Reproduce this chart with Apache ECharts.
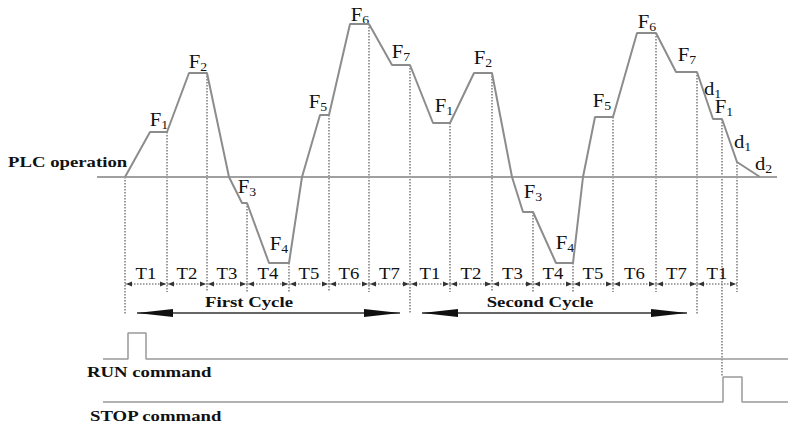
<!DOCTYPE html>
<html><head><meta charset="utf-8">
<script src="https://cdn.jsdelivr.net/npm/echarts@6/dist/echarts.min.js"></script>
<style>html,body{margin:0;padding:0;background:#fff}#c{width:788px;height:425px}</style>
</head><body><div id="c"></div>
<script>
// ---- Data (time units, frequency units) ----
const pathTimes = [0,25,42,64,82,104,117,122,144,164,177,195,204,225,244,267,285,308,325,349,367,387,398,408,431,448,458,470,488,512,531,551,572,588,597,612,635];
const pathFreqs = [0,45,45,104,104,0,-26,-26,-86,-86,0,62,62,153,153,112,112,54,54,104,104,0,-35,-35,-86,-86,0,60,60,144,144,105,105,58,58,15,0];

const segmentBounds = [0,42,82,122,164,204,244,285,325,367,408,448,488,531,572,612];
const segmentLabels = ['T1','T2','T3','T4','T5','T6','T7','T1','T2','T3','T4','T5','T6','T7','T1'];
const cycleStarts = [0,285,572];
const stopTime = 597;

const cycleNames = ['First Cycle','Second Cycle'];
const cycleFrom = [12,297];
const cycleTo = [275,562];
const cycleLabelT = [124,415];

const freqLabelNames = ['F1','F2','F3','F4','F5','F6','F7','F1','F2','F3','F4','F5','F6','F7','d1','F1','d1','d2'];
const freqLabelT = [34,73,122,154,193,235,276,319,358,408,440,477,522,562,587,599,617,638];
const freqLabelF = [57,115,-10,-67,75,162,125,71,119,-15,-66,76,155,122,88,70,35,13];

const plcSpan = [-28,652];
const runTimes = [-22,3,3,21,21,663];
const runLevels = [0,0,1,1,0,0];
const stopTimes = [-22,598,598,617,617,663];
const stopLevels = [0,0,1,1,0,0];

// ---- Layout ----
const SERIF = "'Liberation Serif', 'Times New Roman', serif";
const ROW_T_LABEL = -96, ROW_DIM = -107, ROW_CYCLE_LABEL = -125, ROW_CYCLE = -136;
const GUIDE_BOTTOM = -115, GUIDE_CYCLE_BOTTOM = -137;
const RUN_BASE = -182, RUN_AMP = 26, STOP_BASE = -225, STOP_AMP = 25;

const pathData = pathTimes.map((t,i)=>[t,pathFreqs[i]]);
function freqAt(t){ const i = pathTimes.indexOf(t); return i>=0 ? pathFreqs[i] : 0; }

const guideTimes = segmentBounds.concat([stopTime]).sort((a,b)=>a-b);
const guideData = guideTimes.map(t=>{
  let bottom = GUIDE_BOTTOM;
  if (cycleStarts.indexOf(t)>=0) bottom = GUIDE_CYCLE_BOTTOM;
  if (t===stopTime) bottom = STOP_BASE + STOP_AMP;
  return [t, freqAt(t), bottom];
});
const segData = segmentLabels.map((l,i)=>[segmentBounds[i], segmentBounds[i+1]]);
const cycleData = cycleNames.map((n,i)=>[cycleFrom[i], cycleTo[i], cycleLabelT[i]]);
const freqLabelData = freqLabelNames.map((n,i)=>[freqLabelT[i], freqLabelF[i]]);
const runData = runTimes.map((t,i)=>[t, RUN_BASE + runLevels[i]*RUN_AMP]);
const stopData = stopTimes.map((t,i)=>[t, STOP_BASE + stopLevels[i]*STOP_AMP]);

const chart = echarts.init(document.getElementById('c'), null, {renderer:'svg', width:788, height:425});

function tri(tip, dir, len, half, fill){
  return {type:'polygon', shape:{points:[[tip[0],tip[1]],[tip[0]-dir*len,tip[1]-half],[tip[0]-dir*len,tip[1]+half]]}, style:{fill:fill}};
}

const option = {
  animation:false,
  backgroundColor:'#fff',
  grid:{left:0,top:0,width:788,height:425},
  xAxis:{type:'value',min:-125,max:663,show:false},
  yAxis:{type:'value',min:-248,max:177,show:false},
  series:[
    {type:'line', name:'PLC baseline', data:plcSpan.map(t=>[t,0]), showSymbol:false, lineStyle:{color:'#a0a0a0',width:2}, silent:true},
    {type:'custom', name:'guides', data:guideData, renderItem:function(params, api){
      const p1 = api.coord([api.value(0), api.value(1)]);
      const p2 = api.coord([api.value(0), api.value(2)]);
      return {type:'line', shape:{x1:p1[0],y1:p1[1],x2:p2[0],y2:p2[1]}, style:{stroke:'#7a7a7a',lineWidth:1.5,lineDash:[1.5,1.5]}};
    }},
    {type:'line', name:'PLC operation', data:pathData, showSymbol:false, lineStyle:{color:'#8c8c8c',width:2}, silent:true},
    {type:'custom', name:'segments', data:segData, renderItem:function(params, api){
      const a = api.coord([api.value(0), ROW_DIM]);
      const b = api.coord([api.value(1), ROW_DIM]);
      const lab = api.coord([(api.value(0)+api.value(1))/2, ROW_T_LABEL]);
      return {type:'group', children:[
        {type:'line', shape:{x1:a[0],y1:a[1],x2:b[0],y2:b[1]}, style:{stroke:'#8a8a8a',lineWidth:1.5,lineDash:[1.5,1.5]}},
        tri([a[0]+1,a[1]], -1, 6, 2.5, '#333'),
        tri([b[0]-1,b[1]], 1, 6, 2.5, '#333'),
        {type:'text', x:lab[0], y:lab[1], scaleX:1.1, style:{text:segmentLabels[params.dataIndex], fontFamily:SERIF, fontSize:17, fill:'#111', align:'center', verticalAlign:'middle'}}
      ]};
    }},
    {type:'custom', name:'cycles', data:cycleData, renderItem:function(params, api){
      const a = api.coord([api.value(0), ROW_CYCLE]);
      const b = api.coord([api.value(1), ROW_CYCLE]);
      const lab = api.coord([api.value(2), ROW_CYCLE_LABEL]);
      return {type:'group', children:[
        {type:'line', shape:{x1:a[0],y1:a[1],x2:b[0],y2:b[1]}, style:{stroke:'#333',lineWidth:1.5}},
        tri(a, -1, 36, 4, '#111'),
        tri(b, 1, 36, 4, '#111'),
        {type:'text', x:lab[0], y:lab[1], scaleX:1.25, style:{text:cycleNames[params.dataIndex], fontFamily:SERIF, fontWeight:'bold', fontSize:15, fill:'#111', align:'center', verticalAlign:'middle'}}
      ]};
    }},
    {type:'custom', name:'freq labels', data:freqLabelData, renderItem:function(params, api){
      const p = api.coord([api.value(0), api.value(1)]);
      const name = freqLabelNames[params.dataIndex];
      return {type:'group', x:p[0], y:p[1], scaleX:1.15, children:[
        {type:'text', x:2, y:0, style:{text:name.charAt(0), fontFamily:SERIF, fontSize:18, fill:'#111', align:'right', verticalAlign:'middle'}},
        {type:'text', x:2, y:5, style:{text:name.slice(1), fontFamily:SERIF, fontSize:12, fill:'#111', align:'left', verticalAlign:'middle'}}
      ]};
    }},
    {type:'line', name:'RUN command', data:runData, showSymbol:false, lineStyle:{color:'#999',width:1.5}, silent:true},
    {type:'line', name:'STOP command', data:stopData, showSymbol:false, lineStyle:{color:'#999',width:1.5}, silent:true}
  ],
  graphic:[
    {type:'text', left:8, top:155, scaleX:1.25, style:{text:'PLC operation', fontFamily:SERIF, fontWeight:'bold', fontSize:15, fill:'#111'}},
    {type:'text', left:87, top:365, scaleX:1.25, style:{text:'RUN command', fontFamily:SERIF, fontWeight:'bold', fontSize:15, fill:'#111'}},
    {type:'text', left:90, top:409, scaleX:1.25, style:{text:'STOP command', fontFamily:SERIF, fontWeight:'bold', fontSize:15, fill:'#111'}}
  ]
};
chart.setOption(option);
</script></body></html>
